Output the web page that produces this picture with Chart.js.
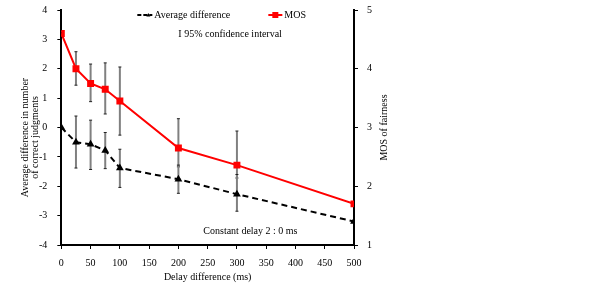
<!DOCTYPE html>
<html>
<head>
<meta charset="utf-8">
<script src="https://cdn.jsdelivr.net/npm/chart.js@4.4.0/dist/chart.umd.min.js"></script>
<style>
  html, body { margin: 0; padding: 0; background: #fff; }
  #wrap { width: 602px; height: 287px; }
</style>
</head>
<body>
<div id="wrap"><canvas id="chart" width="602" height="287"></canvas></div>
<script>
const delays = [0, 25, 50, 75, 100, 200, 300, 500];
const xTicks = [0, 50, 100, 150, 200, 250, 300, 350, 400, 450, 500];

// left axis: average difference in number of correct judgments
const avgDiff = [0, -0.5, -0.57, -0.78, -1.38, -1.76, -2.27, -3.2];
const avgLow = [null, -1.38, -1.43, -1.4, -2.04, -2.24, -2.85, null];
const avgHigh = [null, 0.39, 0.25, -0.17, -0.74, -1.28, -1.6, null];

// right axis: MOS of fairness
const mos = [4.6, 4.0, 3.75, 3.65, 3.45, 2.65, 2.36, 1.7];
const mosLow = [null, 3.72, 3.44, 3.23, 2.87, 2.33, 2.14, null];
const mosHigh = [null, 4.29, 4.08, 4.1, 4.03, 3.15, 2.94, null];

const serif = "'Liberation Serif', 'Times New Roman', serif";
const FONT = 10;

const toPoints = (xs, ys) => xs.map((x, i) => ({ x: x, y: ys[i] }));

// let the plot reach the top edge padding set in layout
const noVertPad = s => { s.paddingTop = 0; s.paddingBottom = 0; };

const errorBars = {
  id: "errorBars",
  beforeDatasetsDraw(chart) {
    const c = chart.ctx;
    const xs = chart.scales.x;
    const sets = [
      { low: mosLow, high: mosHigh, scale: chart.scales.y2 },
      { low: avgLow, high: avgHigh, scale: chart.scales.y }
    ];
    c.save();
    sets.forEach(s => {
      delays.forEach((d, i) => {
        if (s.low[i] == null) return;
        const px = xs.getPixelForValue(d);
        const y1 = s.scale.getPixelForValue(s.low[i]);
        const y2 = s.scale.getPixelForValue(s.high[i]);
        c.strokeStyle = "#808080";
        c.lineWidth = 2;
        c.beginPath();
        c.moveTo(px, y1); c.lineTo(px, y2);
        c.stroke();
        c.strokeStyle = "#222";
        c.lineWidth = 1;
        c.beginPath();
        c.moveTo(px - 1.5, y1); c.lineTo(px + 1.5, y1);
        c.moveTo(px - 1.5, y2); c.lineTo(px + 1.5, y2);
        c.stroke();
      });
    });
    c.restore();
  }
};

const notes = {
  id: "notes",
  afterDraw(chart) {
    const c = chart.ctx;
    const a = chart.chartArea;
    const midY = (a.top + a.bottom) / 2;
    c.save();
    c.font = FONT + "px " + serif;
    c.fillStyle = "#000";
    c.textBaseline = "middle";
    c.textAlign = "left";

    // legend: Average difference
    const ly = a.top + 5;
    c.strokeStyle = "#000";
    c.lineWidth = 2;
    c.setLineDash([4, 2]);
    c.beginPath(); c.moveTo(a.left + 76, ly); c.lineTo(a.left + 91, ly); c.stroke();
    c.setLineDash([]);
    c.beginPath();
    c.moveTo(a.left + 87, ly - 2); c.lineTo(a.left + 89, ly + 1.5); c.lineTo(a.left + 85, ly + 1.5);
    c.closePath(); c.fill();
    c.fillText("Average difference", a.left + 93, ly);

    // legend: MOS
    c.strokeStyle = "#ff0000";
    c.fillStyle = "#ff0000";
    c.beginPath(); c.moveTo(a.left + 207, ly); c.lineTo(a.left + 221, ly); c.stroke();
    c.fillRect(a.left + 211, ly - 3, 6, 6);
    c.fillStyle = "#000";
    c.fillText("MOS", a.left + 223, ly);

    c.fillText("I 95% confidence interval", a.left + 117, a.top + 24);
    c.fillText("Constant delay 2 : 0 ms", a.left + 142, a.bottom - 14);

    // axis titles
    c.textAlign = "center";
    c.fillText("Delay difference (ms)", (a.left + a.right) / 2, a.bottom + 32);
    c.save();
    c.translate(25, midY + 10);
    c.rotate(-Math.PI / 2);
    c.fillText("Average difference in number", 0, 0);
    c.fillText("of correct judgments", 0, 10);
    c.restore();
    c.save();
    c.translate(a.right + 30, midY);
    c.rotate(-Math.PI / 2);
    c.fillText("MOS of fairness", 0, 0);
    c.restore();
    c.restore();
  }
};

new Chart(document.getElementById("chart"), {
  type: "line",
  data: {
    datasets: [
      {
        label: "Average difference",
        data: toPoints(delays, avgDiff),
        yAxisID: "y",
        borderColor: "#000",
        backgroundColor: "#000",
        borderWidth: 2,
        borderDash: [6, 4],
        pointStyle: "triangle",
        pointRadius: 2.5,
        tension: 0
      },
      {
        label: "MOS",
        data: toPoints(delays, mos),
        yAxisID: "y2",
        borderColor: "#ff0000",
        backgroundColor: "#ff0000",
        borderWidth: 2,
        pointStyle: "rect",
        pointRadius: 3.5,
        tension: 0
      }
    ]
  },
  options: {
    responsive: false,
    animation: false,
    layout: { padding: { top: 10, right: 221, left: 29, bottom: 10 } },
    plugins: { legend: { display: false }, tooltip: { enabled: false } },
    scales: {
      x: {
        type: "linear",
        min: 0,
        max: 500,
        afterBuildTicks: s => { s.ticks = xTicks.map(v => ({ value: v })); },
        grid: { drawOnChartArea: false, tickLength: 4, color: "#000", lineWidth: 1 },
        border: { color: "#000", width: 2 },
        ticks: { color: "#000", font: { family: serif, size: FONT }, padding: 8, maxRotation: 0 }
      },
      y: {
        position: "left",
        min: -4,
        max: 4,
        afterFit: noVertPad,
        ticks: { stepSize: 1, color: "#000", font: { family: serif, size: FONT }, padding: 10 },
        grid: { drawOnChartArea: false, tickLength: 4, color: "#000", lineWidth: 1 },
        border: { color: "#000", width: 2 }
      },
      y2: {
        position: "right",
        min: 1,
        max: 5,
        afterFit: noVertPad,
        ticks: { stepSize: 1, color: "#000", font: { family: serif, size: FONT }, padding: 9 },
        grid: { drawOnChartArea: false, tickLength: 4, color: "#000", lineWidth: 1 },
        border: { color: "#000", width: 2 }
      }
    }
  },
  plugins: [errorBars, notes]
});
</script>
</body>
</html>
